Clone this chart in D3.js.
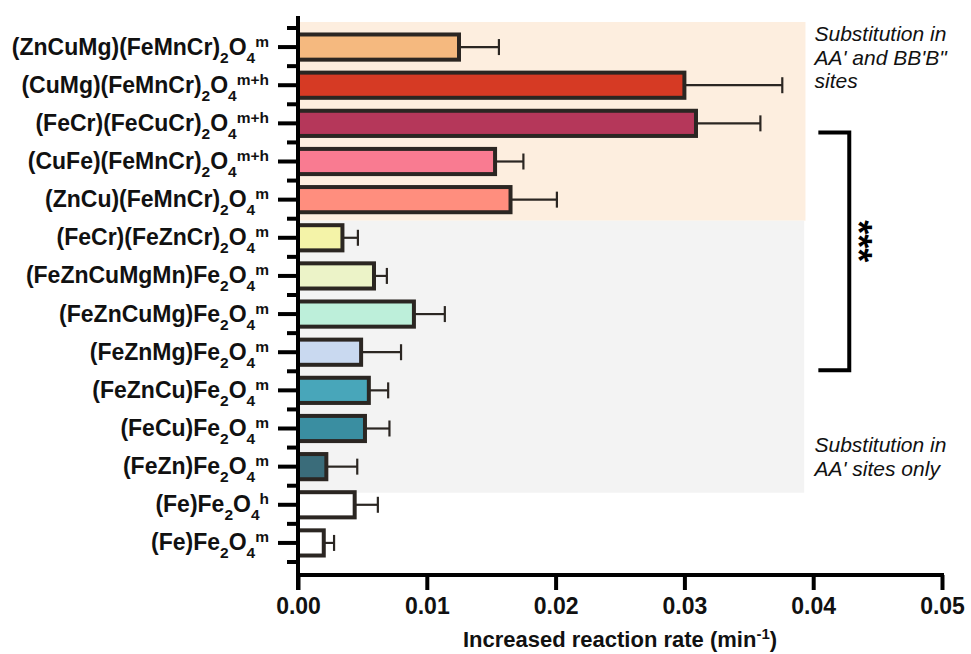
<!DOCTYPE html>
<html><head><meta charset="utf-8">
<script src="https://cdn.jsdelivr.net/npm/d3@7"></script>
<style>
body{margin:0;background:#fff}
svg{display:block}
text{font-family:"Liberation Sans",Arial,Helvetica,sans-serif}
</style>
</head><body>
<svg id="chart" width="971" height="654"></svg>
<script>
// ---- data ----
const categories = ["(ZnCuMg)(FeMnCr)", "(CuMg)(FeMnCr)", "(FeCr)(FeCuCr)", "(CuFe)(FeMnCr)", "(ZnCu)(FeMnCr)",
  "(FeCr)(FeZnCr)", "(FeZnCuMgMn)Fe", "(FeZnCuMg)Fe", "(FeZnMg)Fe", "(FeZnCu)Fe", "(FeCu)Fe", "(FeZn)Fe", "(Fe)Fe", "(Fe)Fe"];
const phases = ["m", "m+h", "m+h", "m+h", "m", "m", "m", "m", "m", "m", "m", "m", "h", "m"];
const values = [0.0125, 0.0300, 0.0309, 0.0153, 0.0165, 0.00345, 0.0059, 0.0090, 0.0049, 0.0055, 0.0052, 0.0022, 0.0044, 0.0020];
const errors = [0.0031, 0.0076, 0.0050, 0.0022, 0.0036, 0.0012, 0.0010, 0.0024, 0.0031, 0.0015, 0.0019, 0.0024, 0.0018, 0.0008];
const colors = ["#F5B97F", "#D63A24", "#B5375A", "#F97B91", "#FF8E7E", "#F4F3A8", "#ECF3C8", "#BDEFDA", "#C9D9F0",
  "#48A6BA", "#3A8EA1", "#3A6C7A", "#FFFFFF", "#FFFFFF"];
const xTicks = [0, 0.01, 0.02, 0.03, 0.04, 0.05];
const topNote = ["Substitution in", "AA' and BB'B\"", "sites"];
const bottomNote = ["Substitution in", "AA' sites only"];
const axisTitle = "Increased reaction rate (min";
const axisTitleSup = "-1";
const significance = "***";

// ---- scales ----
const svg = d3.select("#chart");
const x = d3.scaleLinear().domain([0, 0.05]).range([298, 942]);
const y = d3.scaleBand().domain(d3.range(categories.length)).range([28, 562]).paddingInner(0.34).paddingOuter(0.17);
const step = y.step(), bw = y.bandwidth(), top0 = y.range()[0];
const boundary = i => top0 + i * step;
const center = i => y(i) + bw / 2;
const dark = "#2b2622";

// ---- background regions ----
svg.append("rect").attr("x", x(0) + 2).attr("y", top0 - 6)
  .attr("width", x(0.0394) - x(0) - 2).attr("height", boundary(5) + 2 - (top0 - 6)).attr("fill", "#FDEEDF");
svg.append("rect").attr("x", x(0) + 2).attr("y", boundary(5) + 2)
  .attr("width", x(0.0393) - x(0) - 2).attr("height", boundary(12) + 7 - (boundary(5) + 2)).attr("fill", "#F3F3F3");

// ---- error bars ----
const eg = svg.append("g").attr("stroke", dark).attr("stroke-width", 2.2);
values.forEach((v, i) => {
  eg.append("line").attr("x1", x(v)).attr("x2", x(v + errors[i])).attr("y1", center(i)).attr("y2", center(i));
  eg.append("line").attr("x1", x(v + errors[i])).attr("x2", x(v + errors[i]))
    .attr("y1", center(i) - 8).attr("y2", center(i) + 8);
});

// ---- bars ----
svg.append("g").selectAll("rect").data(values).join("rect")
  .attr("x", x(0)).attr("y", (d, i) => y(i))
  .attr("width", d => x(d) - x(0)).attr("height", bw)
  .attr("fill", (d, i) => colors[i]).attr("stroke", dark).attr("stroke-width", 4);

// ---- y axis ----
const yAxis = svg.append("g").attr("transform", `translate(${x(0)},0)`)
  .call(d3.axisLeft(y).tickSize(20).tickFormat(""));
yAxis.select(".domain").remove();
yAxis.selectAll(".tick line").attr("stroke", "#000").attr("stroke-width", 4);
svg.append("g").selectAll("line").data(d3.range(categories.length + 1)).join("line")
  .attr("x1", x(0) - 11).attr("x2", x(0)).attr("y1", d => boundary(d)).attr("y2", d => boundary(d))
  .attr("stroke", "#000").attr("stroke-width", 4);
svg.append("line").attr("x1", x(0)).attr("x2", x(0)).attr("y1", top0 - 12).attr("y2", 590)
  .attr("stroke", "#000").attr("stroke-width", 4);

// y labels with sub/superscripts
const lg = svg.append("g").attr("font-weight", "bold").attr("font-size", 23).attr("fill", "#111");
categories.forEach((c, i) => {
  const t = lg.append("text").attr("x", x(0) - 29).attr("y", center(i) + 7.5).attr("text-anchor", "end");
  t.append("tspan").text(c);
  t.append("tspan").attr("dy", 8).attr("font-size", 15.5).text("2");
  t.append("tspan").attr("dy", -8).text("O");
  t.append("tspan").attr("dy", 8).attr("font-size", 15.5).text("4");
  t.append("tspan").attr("dy", -16).attr("font-size", 15.5).text(phases[i]);
});

// ---- x axis ----
const xAxis = svg.append("g").attr("transform", `translate(0,575)`)
  .call(d3.axisBottom(x).tickValues(xTicks).tickSize(15).tickSizeOuter(0).tickPadding(8).tickFormat(d3.format(".2f")));
xAxis.select(".domain").attr("stroke", "#000").attr("stroke-width", 4).attr("d", `M${x(0) - 2},0H${x(0.05) + 2}`);
xAxis.selectAll(".tick line").attr("stroke", "#000").attr("stroke-width", 4);
xAxis.selectAll(".tick text").attr("font-size", 23).attr("font-weight", "bold").attr("fill", "#111")
  .attr("font-family", "'Liberation Sans',Arial,sans-serif");

const title = svg.append("text").attr("x", (x(0) + x(0.05)) / 2).attr("y", 647).attr("text-anchor", "middle")
  .attr("font-size", 22).attr("font-weight", "bold").attr("fill", "#111");
title.append("tspan").text(axisTitle);
title.append("tspan").attr("dy", -8).attr("font-size", 15).text(axisTitleSup);
title.append("tspan").attr("dy", 8).text(")");

// ---- annotations ----
const ng = svg.append("g").attr("font-size", 21).attr("font-style", "italic").attr("fill", "#111");
topNote.forEach((s, k) => ng.append("text").attr("x", x(0.0401)).attr("y", top0 + 13 + k * 23.5).text(s));
bottomNote.forEach((s, k) => ng.append("text").attr("x", x(0.0401)).attr("y", boundary(11) + 4.5 + k * 23.5).text(s));

// significance bracket
const bx = x(0.0428), bTop = boundary(3) - 10, bBot = boundary(9) - 1;
svg.append("path").attr("d", `M${x(0.0404)},${bTop}H${bx}V${bBot}H${x(0.0404)}`)
  .attr("fill", "none").attr("stroke", "#000").attr("stroke-width", 4);
svg.append("text").attr("transform", `translate(${bx - 3},${(bTop + bBot) / 2 - 10}) rotate(90)`)
  .attr("text-anchor", "middle").attr("font-size", 36).attr("font-weight", "bold").attr("fill", "#000")
  .text(significance);
</script>
</body></html>
